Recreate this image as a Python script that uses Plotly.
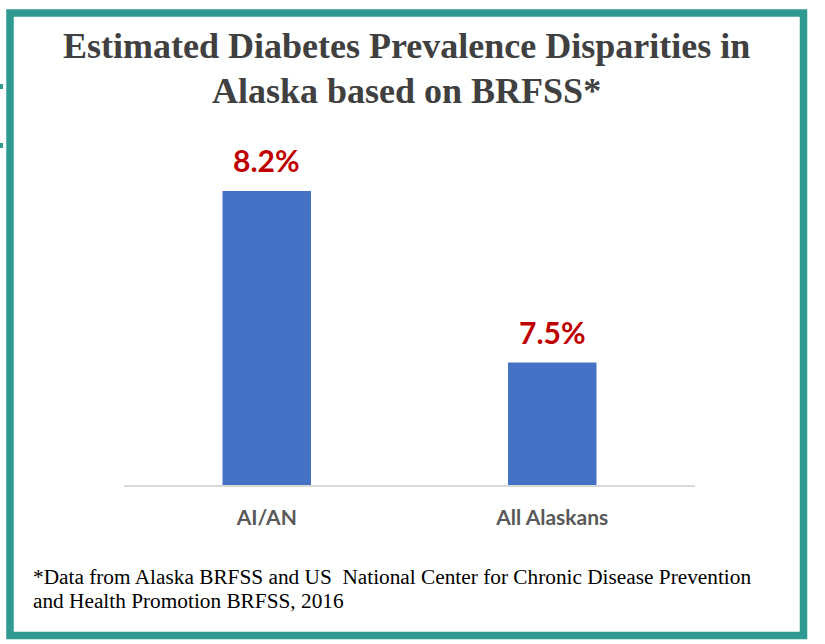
import plotly.graph_objects as go

categories = ["AI/AN", "All Alaskans"]
values = [8.2, 7.5]
value_labels = ["8.2%", "7.5%"]
title_lines = ["Estimated Diabetes Prevalence Disparities in", "Alaska based on BRFSS*"]
footnote_lines = ["*Data from Alaska BRFSS and US \u00a0National Center for Chronic Disease Prevention",
                  "and Health Promotion BRFSS, 2016"]

W, H = 825, 644
L, R, T, B = 124, 130, 142, 159
pw, ph = W - L - R, H - T - B

def px(x):
    return (x - L) / pw

def py(y):
    return (H - B - y) / ph

fig = go.Figure()
fig.add_trace(go.Bar(
    x=categories, y=values, marker_color="#4472C4", marker_line_width=0,
    width=0.31, hoverinfo="skip",
))

for c, v, t in zip(categories, values, value_labels):
    fig.add_annotation(x=c, y=v, text=t, showarrow=False, yanchor="bottom", yshift=11,
                       font=dict(family="Lato", size=30, color="#C00000", weight="bold"))

shapes = [
    dict(type="rect", xref="paper", yref="paper", x0=px(10), x1=px(803.5), y0=py(635.5), y1=py(13),
         line=dict(color="#2E9A92", width=7.5), layer="above"),
    dict(type="rect", xref="paper", yref="paper", x0=px(0), x1=px(3), y0=py(89), y1=py(84),
         fillcolor="#2E9A92", line_width=0),
    dict(type="rect", xref="paper", yref="paper", x0=px(0), x1=px(3), y0=py(148), y1=py(143),
         fillcolor="#2E9A92", line_width=0),
]
fig.update_layout(shapes=shapes)

# title lines
for line, yc in zip(title_lines, [46, 91]):
    fig.add_annotation(xref="paper", yref="paper", x=px(406), y=py(yc), xanchor="center", yanchor="middle",
                       text=line, showarrow=False,
                       font=dict(family="Liberation Serif", size=36, color="#404040", weight="bold"))

# footnote lines
for line, yc in zip(footnote_lines, [577, 601]):
    fig.add_annotation(xref="paper", yref="paper", x=px(31), y=py(yc), xanchor="left", yanchor="middle",
                       text=line, showarrow=False,
                       font=dict(family="Liberation Serif", size=21.3, color="#000000"))

fig.update_layout(
    width=W, height=H,
    margin=dict(l=L, r=R, t=T, b=B),
    paper_bgcolor="white", plot_bgcolor="white",
    showlegend=False,
    xaxis=dict(showline=True, linecolor="#D9D9D9", linewidth=1.5, ticks="", showgrid=False,
               ticklabelstandoff=13,
               tickfont=dict(family="Lato", size=21, color="#595959", weight="bold")),
    yaxis=dict(range=[7.0, 8.4], visible=False, showgrid=False, zeroline=False),
)

fig.write_html("out.html", config={"displayModeBar": False},
               post_script="document.body.style.margin='0';")
